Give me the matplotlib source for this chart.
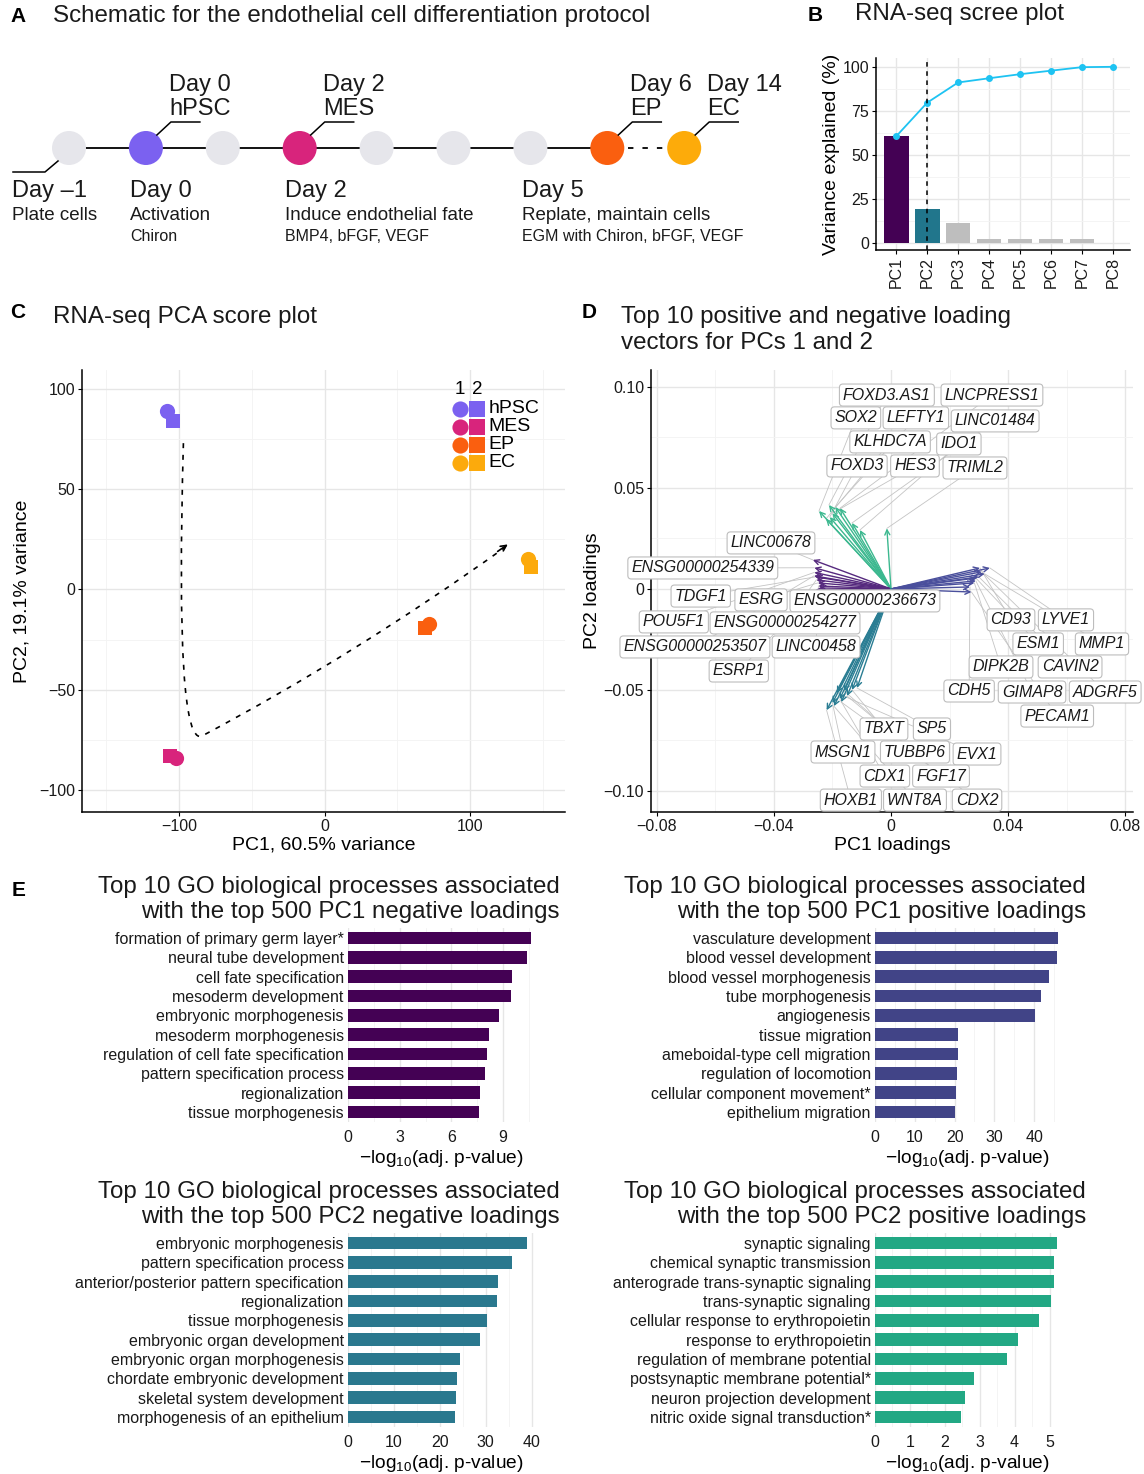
import numpy as np
import matplotlib
matplotlib.use("Agg")
import matplotlib.pyplot as plt
from matplotlib.path import Path
from matplotlib.patches import PathPatch, Circle

plt.rcParams['font.family'] = ['Liberation Sans', 'DejaVu Sans']
plt.rcParams['mathtext.fontset'] = 'custom'
plt.rcParams['mathtext.rm'] = 'Liberation Sans'
plt.rcParams['mathtext.default'] = 'regular'
plt.rcParams['axes.unicode_minus'] = True

W, H = 1144, 1474

# ---- A: schematic ----
stage_colors = ['#e6e6eb', '#7b61f0', '#e6e6eb', '#d8247c', '#e6e6eb',
                '#e6e6eb', '#e6e6eb', '#fa5f0f', '#fdab0a']
top_idx = [1, 3, 7, 8]
top_day = ['Day 0', 'Day 2', 'Day 6', 'Day 14']
top_name = ['hPSC', 'MES', 'EP', 'EC']
bottom_idx = [0, 1, 3, 6]
bottom_day = ['Day \u20131', 'Day 0', 'Day 2', 'Day 5']
bottom_step = ['Plate cells', 'Activation', 'Induce endothelial fate', 'Replate, maintain cells']
bottom_media = ['', 'Chiron', 'BMP4, bFGF, VEGF', 'EGM with Chiron, bFGF, VEGF']

# ---- B: scree ----
pcs = ['PC1', 'PC2', 'PC3', 'PC4', 'PC5', 'PC6', 'PC7', 'PC8']
pc_var = [60.5, 19.1, 11.5, 2.4, 2.3, 2.0, 2.0, 0.2]

# ---- C: PCA scores ----
groups = ['hPSC', 'MES', 'EP', 'EC']
group_colors = ['#7b61f0', '#d8247c', '#fa5f0f', '#fcaa0c']
rep1_pc1 = [-108, -102, 72, 140]
rep1_pc2 = [89, -84, -17, 15]
rep2_pc1 = [-104, -106, 69, 142]
rep2_pc2 = [84, -83, -19, 11]

# ---- D: loadings ----
pc2pos_genes = ['FOXD3.AS1', 'LNCPRESS1', 'SOX2', 'LEFTY1', 'LINC01484',
                'KLHDC7A', 'IDO1', 'FOXD3', 'HES3', 'TRIML2']
pc2pos_x = [-0.0212, -0.0174, -0.0246, -0.0190, -0.0133, -0.0222, -0.0106, -0.0209, -0.0200, -0.0014]
pc2pos_y = [0.0416, 0.0400, 0.0386, 0.0406, 0.0327, 0.0347, 0.0292, 0.0356, 0.0375, 0.0300]
pc2pos_lx = [-0.0014, 0.0345, -0.0120, 0.0085, 0.0356, -0.0003, 0.0232, -0.0116, 0.0082, 0.0287]
pc2pos_ly = [0.0960, 0.0960, 0.0847, 0.0847, 0.0832, 0.0728, 0.0718, 0.0609, 0.0609, 0.0599]

pc1neg_genes = ['LINC00678', 'ENSG00000254339', 'TDGF1', 'ESRG', 'ENSG00000236673',
                'POU5F1', 'ENSG00000254277', 'ENSG00000253507', 'LINC00458', 'ESRP1']
pc1neg_x = [-0.0267, -0.0262, -0.0258, -0.0250, -0.0245, -0.0262, -0.0255, -0.0263, -0.0248, -0.0258]
pc1neg_y = [0.0144, 0.0105, 0.0060, 0.0030, 0.0005, 0.0082, 0.0045, 0.0065, 0.0015, -0.0005]
pc1neg_lx = [-0.0410, -0.0643, -0.0650, -0.0444, -0.0089, -0.0742, -0.0362, -0.0670, -0.0256, -0.0520]
pc1neg_ly = [0.0228, 0.0104, -0.0035, -0.0054, -0.0059, -0.0163, -0.0168, -0.0287, -0.0287, -0.0406]

pc1pos_genes = ['CD93', 'LYVE1', 'ESM1', 'MMP1', 'DIPK2B', 'CAVIN2', 'CDH5',
                'GIMAP8', 'ADGRF5', 'PECAM1']
pc1pos_x = [0.0304, 0.0338, 0.0290, 0.0320, 0.0285, 0.0300, 0.0270, 0.0290, 0.0310, 0.0275]
pc1pos_y = [0.0104, 0.0104, 0.0054, 0.0075, 0.0030, 0.0060, 0.0010, 0.0040, 0.0085, -0.0015]
pc1pos_lx = [0.0410, 0.0598, 0.0503, 0.0721, 0.0376, 0.0612, 0.0267, 0.0482, 0.0732, 0.0568]
pc1pos_ly = [-0.0153, -0.0153, -0.0272, -0.0272, -0.0386, -0.0386, -0.0505, -0.0510, -0.0510, -0.0629]

pc2neg_genes = ['TBXT', 'SP5', 'MSGN1', 'TUBBP6', 'EVX1', 'CDX1', 'FGF17',
                'HOXB1', 'WNT8A', 'CDX2']
pc2neg_x = [-0.0133, -0.0116, -0.0200, -0.0150, -0.0185, -0.0175, -0.0160, -0.0220, -0.0195, -0.0170]
pc2neg_y = [-0.0500, -0.0490, -0.0565, -0.0530, -0.0515, -0.0545, -0.0505, -0.0600, -0.0580, -0.0560]
pc2neg_lx = [-0.0024, 0.0140, -0.0164, 0.0082, 0.0294, -0.0021, 0.0171, -0.0137, 0.0082, 0.0294]
pc2neg_ly = [-0.0693, -0.0693, -0.0807, -0.0807, -0.0817, -0.0926, -0.0926, -0.1045, -0.1045, -0.1045]

# ---- E: GO enrichment ----
go_pc1neg = ['formation of primary germ layer*', 'neural tube development', 'cell fate specification',
             'mesoderm development', 'embryonic morphogenesis', 'mesoderm morphogenesis',
             'regulation of cell fate specification', 'pattern specification process',
             'regionalization', 'tissue morphogenesis']
go_pc1neg_val = [10.6, 10.4, 9.5, 9.45, 8.75, 8.2, 8.05, 7.95, 7.65, 7.6]

go_pc1pos = ['vasculature development', 'blood vessel development', 'blood vessel morphogenesis',
             'tube morphogenesis', 'angiogenesis', 'tissue migration', 'ameboidal-type cell migration',
             'regulation of locomotion', 'cellular component movement*', 'epithelium migration']
go_pc1pos_val = [46.1, 45.8, 43.8, 41.8, 40.3, 20.9, 20.8, 20.7, 20.4, 20.2]

go_pc2neg = ['embryonic morphogenesis', 'pattern specification process',
             'anterior/posterior pattern specification', 'regionalization', 'tissue morphogenesis',
             'embryonic organ development', 'embryonic organ morphogenesis',
             'chordate embryonic development', 'skeletal system development',
             'morphogenesis of an epithelium']
go_pc2neg_val = [38.9, 35.7, 32.6, 32.4, 30.2, 28.7, 24.3, 23.7, 23.5, 23.3]

go_pc2pos = ['synaptic signaling', 'chemical synaptic transmission',
             'anterograde trans-synaptic signaling', 'trans-synaptic signaling',
             'cellular response to erythropoietin', 'response to erythropoietin',
             'regulation of membrane potential', 'postsynaptic membrane potential*',
             'neuron projection development', 'nitric oxide signal transduction*']
go_pc2pos_val = [5.2, 5.14, 5.14, 5.03, 4.7, 4.09, 3.77, 2.83, 2.57, 2.46]

GRID_MAJ = '#e6e6e6'
GRID_MIN = '#f3f3f3'
TXT = '#1a1a1a'
AXIS_FS = 14

fig = plt.figure(figsize=(W / 100, H / 100), dpi=100)


def px_axes(l, t, r, b):
    return fig.add_axes([l / W, 1 - b / H, (r - l) / W, (b - t) / H])


def gg_axes(ax):
    for s in ['top', 'right']:
        ax.spines[s].set_visible(False)
    for s in ['left', 'bottom']:
        ax.spines[s].set_linewidth(1.1)
    ax.tick_params(length=3, width=0.8, labelsize=11.5, pad=2, labelcolor=TXT)
    ax.tick_params(which='minor', length=0)
    ax.grid(True, which='major', color=GRID_MAJ, lw=1.0)
    ax.grid(True, which='minor', color=GRID_MIN, lw=0.6)
    ax.set_axisbelow(True)


# B
axB = px_axes(876, 58, 1130, 250)
gg_axes(axB)
xb = np.arange(len(pcs))
bar_cols = ['#440154', '#21768c'] + ['#bebebe'] * (len(pcs) - 2)
axB.bar(xb, pc_var, width=0.8, color=bar_cols, zorder=2)
axB.plot(xb, np.cumsum(pc_var), color='#1ec3f2', lw=1.3, marker='o', ms=4, zorder=3)
axB.axvline(1, color='black', ls=(0, (3, 3)), lw=1.1, zorder=4)
axB.set_xlim(-0.65, 7.55)
axB.set_ylim(-4, 105)
axB.set_yticks([0, 25, 50, 75, 100])
axB.set_yticks([12.5, 37.5, 62.5, 87.5], minor=True)
axB.set_xticks(xb)
axB.set_xticklabels(pcs, rotation=90)
axB.tick_params(labelsize=11.5)
axB.set_ylabel('Variance explained (%)', fontsize=AXIS_FS, labelpad=2)

# C
axC = px_axes(82, 370, 565, 812)
gg_axes(axC)
axC.set_xlim(-166.7, 165.3)
axC.set_ylim(-111, 109.5)
axC.set_xticks([-100, 0, 100])
axC.set_xticks([-150, -50, 50, 150], minor=True)
axC.set_yticks([-100, -50, 0, 50, 100])
axC.set_yticks([-75, -25, 25, 75], minor=True)
axC.set_xlabel('PC1, 60.5% variance', fontsize=AXIS_FS, labelpad=2)
axC.set_ylabel('PC2, 19.1% variance', fontsize=AXIS_FS, labelpad=6)
traj = Path([(-97, 73), (-103, -80), (-84, -73), (20, -33), (124, 21)],
            [Path.MOVETO, Path.CURVE3, Path.CURVE3, Path.CURVE3, Path.CURVE3])
axC.add_patch(PathPatch(traj, fc='none', ec='black', lw=1.2, ls=(0, (3, 4)), zorder=2))
axC.annotate('', xy=(126, 22.5), xytext=(119, 19),
             arrowprops=dict(arrowstyle='->', lw=1.2, color='black', mutation_scale=10,
                             shrinkA=0, shrinkB=0))
for i in range(len(groups)):
    axC.scatter(rep2_pc1[i], rep2_pc2[i], s=110, marker='s', color=group_colors[i], lw=0, zorder=3)
    axC.scatter(rep1_pc1[i], rep1_pc2[i], s=120, marker='o', color=group_colors[i], lw=0, zorder=3)
# legend
axC.text(0.783, 0.957, '1', transform=axC.transAxes, ha='center', va='center', fontsize=13.5)
axC.text(0.818, 0.957, '2', transform=axC.transAxes, ha='center', va='center', fontsize=13.5)
for i, g in enumerate(groups):
    yy = 0.912 - i * 0.0407
    axC.scatter(0.783, yy, s=135, marker='o', color=group_colors[i], lw=0,
                transform=axC.transAxes, zorder=5, clip_on=False)
    axC.scatter(0.818, yy, s=125, marker='s', color=group_colors[i], lw=0,
                transform=axC.transAxes, zorder=5, clip_on=False)
    axC.text(0.842, yy, g, transform=axC.transAxes, ha='left', va='center', fontsize=14)

# D
axD = px_axes(651, 370, 1133, 812)
gg_axes(axD)
axD.set_xlim(-0.082, 0.0827)
axD.set_ylim(-0.1104, 0.1084)
axD.set_xticks([-0.08, -0.04, 0, 0.04, 0.08])
axD.set_xticklabels(['\u22120.08', '\u22120.04', '0', '0.04', '0.08'])
axD.set_xticks([-0.06, -0.02, 0.02, 0.06], minor=True)
axD.set_yticks([-0.10, -0.05, 0, 0.05, 0.10])
axD.set_yticklabels(['\u22120.10', '\u22120.05', '0', '0.05', '0.10'])
axD.set_yticks([-0.075, -0.025, 0.025, 0.075], minor=True)
axD.set_xlabel('PC1 loadings', fontsize=AXIS_FS, labelpad=2)
axD.set_ylabel('PC2 loadings', fontsize=AXIS_FS, labelpad=2)

load_sets = [
    (pc2pos_genes, pc2pos_x, pc2pos_y, pc2pos_lx, pc2pos_ly, '#3cb88f'),
    (pc1neg_genes, pc1neg_x, pc1neg_y, pc1neg_lx, pc1neg_ly, '#562a7e'),
    (pc1pos_genes, pc1pos_x, pc1pos_y, pc1pos_lx, pc1pos_ly, '#4a4f9c'),
    (pc2neg_genes, pc2neg_x, pc2neg_y, pc2neg_lx, pc2neg_ly, '#2a7d93'),
]
for genes, tx, ty, lx, ly, col in load_sets:
    for j in range(len(genes)):
        axD.plot([lx[j], tx[j]], [ly[j], ty[j]], color='#c4c4c4', lw=0.6, zorder=2)
        axD.annotate('', xy=(tx[j], ty[j]), xytext=(0, 0),
                     arrowprops=dict(arrowstyle='->', color=col, lw=1.0, mutation_scale=9,
                                     shrinkA=0, shrinkB=0), zorder=3)
for genes, tx, ty, lx, ly, col in load_sets:
    for j in range(len(genes)):
        axD.text(lx[j], ly[j], genes[j], ha='center', va='center', fontsize=11.5,
                 style='italic', color=TXT, zorder=4,
                 bbox=dict(boxstyle='round,pad=0.22', fc='white', ec='#bdbdbd', lw=0.8))


# E
def go_panel(ax, terms, vals, color, xmax, major, minor):
    y = np.arange(len(terms))
    ax.barh(y, vals, height=0.66, color=color, zorder=2)
    ax.set_ylim(len(terms) - 0.48, -0.52)
    ax.set_xlim(0, xmax)
    ax.set_yticks(y)
    ax.set_yticklabels(terms)
    ax.set_xticks(major)
    ax.set_xticks(minor, minor=True)
    for s in ax.spines.values():
        s.set_visible(False)
    ax.tick_params(which='both', length=0, pad=3, labelsize=11.5, labelcolor=TXT)
    ax.tick_params(axis='x', pad=6)
    ax.grid(True, axis='x', which='major', color=GRID_MAJ, lw=1.0)
    ax.grid(True, axis='x', which='minor', color=GRID_MIN, lw=0.6)
    ax.set_axisbelow(True)
    ax.set_xlabel('\u2212log$_{10}$(adj. p-value)', fontsize=13.8, labelpad=2)


axE1 = px_axes(348, 928, 534, 1122)
go_panel(axE1, go_pc1neg, go_pc1neg_val, '#440154', 10.8, [0, 3, 6, 9], [1.5, 4.5, 7.5, 10.5])
axE2 = px_axes(875, 928, 1060, 1122)
go_panel(axE2, go_pc1pos, go_pc1pos_val, '#414487', 46.5, [0, 10, 20, 30, 40], [5, 15, 25, 35, 45])
axE3 = px_axes(348, 1233, 534, 1427)
go_panel(axE3, go_pc2neg, go_pc2neg_val, '#2a788e', 40.5, [0, 10, 20, 30, 40], [5, 15, 25, 35])
axE4 = px_axes(875, 1233, 1060, 1427)
go_panel(axE4, go_pc2pos, go_pc2pos_val, '#22a884', 5.3, [0, 1, 2, 3, 4, 5],
         [0.5, 1.5, 2.5, 3.5, 4.5])

# overlay in pixel coordinates: schematic, panel letters, titles
ov = fig.add_axes([0, 0, 1, 1], zorder=10)
ov.set_xlim(0, W)
ov.set_ylim(H, 0)
ov.axis('off')

cy = 148
cx = [69 + i * 76.9 for i in range(len(stage_colors))]
ov.plot([cx[0], cx[-2]], [cy, cy], color='black', lw=1.3, zorder=1)
ov.plot([cx[-2] + 21, cx[-1] - 21], [cy, cy], color='black', lw=1.3, ls=(0, (3, 5)), zorder=1)
for x, c in zip(cx, stage_colors):
    ov.add_patch(Circle((x, cy), 17, color=c, lw=0, zorder=2))
for i, d, n in zip(top_idx, top_day, top_name):
    x = cx[i]
    ov.plot([x + 11, x + 25, x + 54], [cy - 13, cy - 26, cy - 26], color='black', lw=1.1)
    ov.text(x + 23, 85, d, fontsize=17, ha='left', va='center', color=TXT)
    ov.text(x + 23, 109, n, fontsize=17, ha='left', va='center', color=TXT)
ov.plot([cx[0] - 11, cx[0] - 24, cx[0] - 56], [cy + 13, cy + 24, cy + 24], color='black', lw=1.1)
bottom_x = [12, 130, 285, 522]
for bx, d, s, m in zip(bottom_x, bottom_day, bottom_step, bottom_media):
    ov.text(bx, 191, d, fontsize=17, ha='left', va='center', color=TXT)
    ov.text(bx, 215, s, fontsize=13.5, ha='left', va='center', color=TXT)
    ov.text(bx, 236, m, fontsize=11.5, ha='left', va='center', color=TXT)

letter_kw = dict(fontsize=15, fontweight='bold', ha='left', va='center', color='black')
title_kw = dict(fontsize=17.4, va='center', color=TXT)
ov.text(10, 16, 'A', **letter_kw)
ov.text(53, 16, 'Schematic for the endothelial cell differentiation protocol', ha='left', **title_kw)
ov.text(808, 15, 'B', **letter_kw)
ov.text(855, 14, 'RNA-seq scree plot', ha='left', **title_kw)
ov.text(10, 312, 'C', **letter_kw)
ov.text(53, 317, 'RNA-seq PCA score plot', ha='left', **title_kw)
ov.text(582, 312, 'D', **letter_kw)
ov.text(621, 317, 'Top 10 positive and negative loading', ha='left', **title_kw)
ov.text(621, 343, 'vectors for PCs 1 and 2', ha='left', **title_kw)
ov.text(12, 890, 'E', **letter_kw)

e_titles = [(560, 887, 'PC1 negative'), (1086, 887, 'PC1 positive'),
            (560, 1192, 'PC2 negative'), (1086, 1192, 'PC2 positive')]
for xr, yt, what in e_titles:
    ov.text(xr, yt, 'Top 10 GO biological processes associated', ha='right', **title_kw)
    ov.text(xr, yt + 25, 'with the top 500 ' + what + ' loadings', ha='right', **title_kw)

fig.savefig('out.png', dpi=100)
